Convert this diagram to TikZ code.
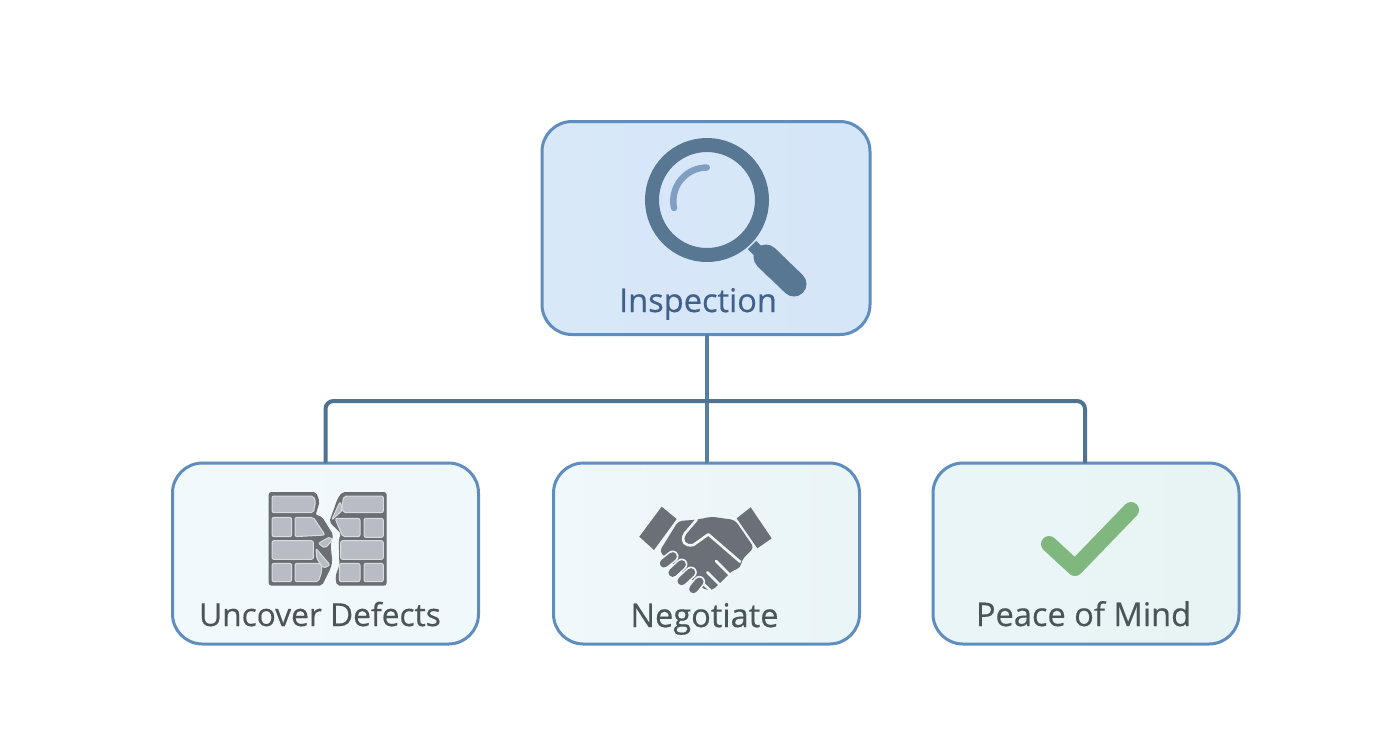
\documentclass[tikz,border=0pt]{standalone}
\usepackage{fontspec}
\setmainfont{Open Sans}[FakeBold=0.45]
\definecolor{edgeblue}{HTML}{5F8DBD}
\definecolor{topfillA}{HTML}{D8E8F9}
\definecolor{topfillB}{HTML}{D5E6F8}
\definecolor{lowA}{HTML}{F2F9FD}
\definecolor{lowB}{HTML}{EFF8FA}
\definecolor{lowC}{HTML}{EAF5F8}
\definecolor{lowD}{HTML}{E8F4F3}
\definecolor{trunkc}{HTML}{56809F}
\definecolor{busc}{HTML}{4F7390}
\definecolor{lensc}{HTML}{587793}
\definecolor{glintc}{HTML}{7F9EC2}
\definecolor{titlec}{HTML}{42618A}
\definecolor{labelc}{HTML}{4A5558}
\definecolor{brickc}{HTML}{B9BCC3}
\definecolor{mortarc}{HTML}{6B6E73}
\definecolor{brickedge}{HTML}{DADCDF}
\definecolor{handc}{HTML}{6B7076}
\definecolor{checkc}{HTML}{7FB77F}
\tikzset{
  box/.style={draw=edgeblue,line width=1.5pt,rounded corners=15pt,inner sep=0pt},
  lowbox/.style={box,minimum width=153pt,minimum height=90.5pt},
  boxlabel/.style={anchor=base,text=labelc,font=\fontsize{16.3pt}{20pt}\selectfont},
  conn/.style={line width=2pt,line cap=round},
  brick/.style={fill=brickc,draw=brickedge,line width=0.5pt,line join=round,rounded corners=1pt},
  wall/.style={fill=mortarc,draw=mortarc,line width=0.6pt,line join=round,rounded corners=1pt},
  finger/.style={line width=4.2pt,line cap=round,draw=handc},
  halo/.style={line width=5.8pt,line cap=round,draw=lowB},
  gap/.style={line width=1.3pt,draw=lowB,line cap=round,line join=round},
}
\begin{document}
\begin{tikzpicture}[x=0.5pt,y=-0.5pt]
\useasboundingbox (0,0) rectangle (1392,752);
\fill[white] (0,0) rectangle (1392,752);
% boxes
\node[box,minimum width=164pt,minimum height=106.5pt,left color=topfillA,right color=topfillB] (top) at (706,228) {};
\node[lowbox,left color=lowA,right color=lowB] (left) at (325.5,553.5) {};
\node[lowbox,left color=lowB,right color=lowC] (mid) at (706.5,553.5) {};
\node[lowbox,left color=lowC,right color=lowD] (right) at (1086,553.5) {};
% connectors
\coordinate (bus) at (707,401);
\draw[conn,draw=trunkc] (bus |- top.south) -- (bus) -- (bus |- mid.north);
\draw[conn,draw=busc,rounded corners=4pt] (left.north) |- (bus) -| ([xshift=-0.5pt]right.north);
% magnifier
\draw[line width=7pt,draw=lensc] (707,200) circle (55);
\draw[line width=6pt,draw=lensc] (752,245) -- (772,265);
\draw[line width=12.5pt,draw=lensc,line cap=round] (766,257) -- (794,284);
\draw[line width=12.5pt,draw=lensc] (766,257) -- (776,267);
\draw[line width=3.2pt,draw=glintc,line cap=round] (674,208) arc[start angle=168,end angle=270,radius=33.5];
% wall
\begin{scope}[shift={(250,480)},scale=1/3]
\path[wall] (58,38) -- (197,38) -- (207,65) -- (195,105) -- (215,112) -- (248,165) -- (240,195) -- (245,245) -- (240,265) -- (215,315) -- (58,315) -- cycle;
\path[wall] (278,38) -- (408,38) -- (408,315) -- (262,315) -- (258,290) -- (270,255) -- (268,180) -- (275,160) -- (240,125) -- (265,55) -- cycle;
\path[brick] (66,48) -- (190,48) -- (197,65) -- (190,98) -- (66,98) -- cycle;
\path[brick] (66,112) -- (125,112) -- (125,170) -- (66,170) -- cycle;
\path[brick] (135,112) -- (190,112) -- (225,165) -- (135,170) -- cycle;
\path[brick] (66,182) -- (190,182) -- (190,238) -- (66,238) -- cycle;
\path[brick] (66,250) -- (125,250) -- (125,305) -- (66,305) -- cycle;
\path[brick] (135,250) -- (215,250) -- (215,275) -- (205,305) -- (135,305) -- cycle;
\path[brick] (205,190) -- (240,170) -- (248,180) -- (225,205) -- cycle;
\path[brick] (198,205) -- (240,255) -- (220,265) -- (200,235) -- cycle;
\path[brick] (282,48) -- (400,48) -- (400,98) -- (280,98) -- (275,80) -- cycle;
\path[brick] (255,115) -- (330,115) -- (330,170) -- (278,170) -- cycle;
\path[brick] (342,115) -- (400,115) -- (400,172) -- (342,172) -- cycle;
\path[brick] (272,182) -- (400,182) -- (400,238) -- (272,238) -- cycle;
\path[brick] (268,250) -- (330,250) -- (330,305) -- (268,305) -- cycle;
\path[brick] (342,250) -- (400,250) -- (400,305) -- (342,305) -- cycle;
\path[brick] (270,65) -- (278,90) -- (245,120) -- cycle;
\end{scope}
% handshake
\begin{scope}[shift={(630,495)},scale=1/3]
\fill[handc] (95,35) -- (140,72) -- (72,165) -- (28,125) -- cycle;
\fill[handc] (362,37) -- (425,130) -- (382,160) -- (320,70) -- cycle;
\fill[handc,rounded corners=2pt] (145,78) -- (200,74) -- (245,65) -- (315,75) -- (372,158) -- (335,195) -- (332,218) -- (305,228) -- (285,250) -- (262,272) -- (245,287) -- (222,283) -- (150,225) -- (88,170) -- cycle;
\draw[gap] (200,74) -- (165,115) .. controls (150,140) and (165,155) .. (190,150) -- (235,118) -- (330,200);
\draw[gap] (258,198) -- (298,238);
\draw[gap] (232,232) -- (268,268);
\draw[gap] (205,252) -- (240,285);
\draw[halo] (102,205) -- (128,184);
\draw[halo] (128,233) -- (155,208);
\draw[halo] (155,258) -- (183,232);
\draw[halo] (190,282) -- (208,260);
\draw[finger] (102,205) -- (128,184);
\draw[finger] (128,233) -- (155,208);
\draw[finger] (155,258) -- (183,232);
\draw[finger] (190,282) -- (208,260);
\end{scope}
% check
\draw[line width=8pt,draw=checkc,line cap=round,line join=round] (1049,544) -- (1075,568) -- (1131,510);
% labels
\node[boxlabel,text=titlec] (t0) at (698,312) {Inspection};
\node[boxlabel,font=\fontsize{15.85pt}{20pt}\selectfont] (t1) at (320,626) {Uncover Defects};
\node[boxlabel] (t2) at (704.5,627) {Negotiate};
\node[boxlabel] (t3) at (1083.5,626) {Peace of Mind};
\end{tikzpicture}
\end{document}
